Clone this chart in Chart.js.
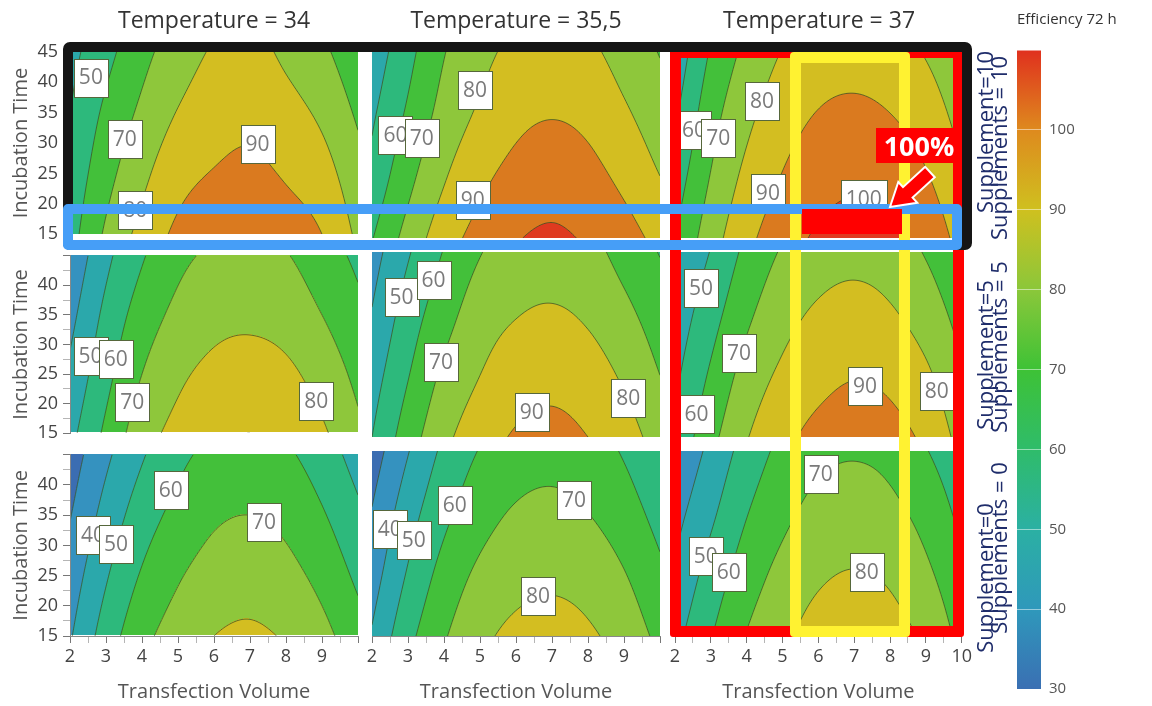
<!DOCTYPE html>
<html>
<head>
<meta charset="utf-8">
<script src="https://cdn.jsdelivr.net/npm/chart.js@4.4.1/dist/chart.umd.min.js"></script>
<style>
  html, body { margin: 0; padding: 0; background: #fff; }
  #wrap { position: relative; width: 1152px; height: 706px; overflow: hidden; font-family: "Open Sans", sans-serif; }
  canvas { position: absolute; }
  .box { position: absolute; box-sizing: border-box; pointer-events: none; }
  .strip { position: absolute; white-space: nowrap; color: #1f2d6b; font-family: "Liberation Sans Narrow", "Open Sans", sans-serif;
           font-size: 22px; line-height: 22px; transform: translate(-50%, -50%) rotate(-90deg); }
</style>
</head>
<body>
<div id="wrap"></div>
<script>
// ---- data ----
const transfectionVolume = [2, 3, 4, 5, 6, 7, 8, 9, 10];
const incubationTime = [15, 25, 35, 45];
const temperatures = ['34', '35,5', '37'];
const supplements = [10, 5, 0];
const efficiencyLevels = [30, 40, 50, 60, 70, 80, 90, 100, 110];

// efficiency grids: one row per incubation time, one column per transfection volume
const effS10T34 = [
  [56, 71.5, 83, 92, 95.5, 96.5, 94.5, 90, 78],
  [53, 66.5, 77.5, 86.5, 90.5, 92, 89, 84, 73.5],
  [50, 62, 72, 80.5, 85.5, 87.5, 83.5, 78, 68.5],
  [47, 57, 67, 75, 81, 83, 78, 72, 63]
];
const effS10T355 = [
  [59.5, 73.5, 85.5, 93.5, 99.3, 101.5, 98.8, 94, 87],
  [53, 67, 79, 87.5, 93, 95.5, 93, 87.5, 80],
  [48.5, 61.5, 73.5, 81.5, 87.5, 89.5, 87.5, 81.5, 74.5],
  [44, 57, 69.5, 77, 82.5, 84.5, 82, 76, 69.5]
];
const effS10T37 = [
  [60, 75.5, 87.5, 95.5, 101.5, 104, 102, 96.5, 86],
  [54.5, 70.5, 82.5, 90.5, 96, 98, 96, 90.5, 81],
  [48.5, 66, 77.5, 85.5, 90.5, 92, 90, 85, 76],
  [43, 61, 72.5, 80.5, 85, 86, 84, 79, 71]
];
const effS5T34 = [
  [47, 62, 75.5, 83, 88, 90, 87.5, 81.5, 72],
  [42, 57, 70, 78, 82.5, 84, 82, 76, 67.5],
  [37, 52.5, 64.5, 72.5, 77, 78, 76, 70, 62.5],
  [32, 47.5, 59, 67.5, 71.5, 72.5, 70.5, 64.5, 58]
];
const effS5T355 = [
  [50, 65, 77.5, 85.5, 91, 93, 90, 84.5, 75.5],
  [45.5, 59.5, 72, 80, 85.5, 87, 84.5, 78.5, 70],
  [40.5, 54.5, 66, 75, 79.5, 81, 78.5, 72.5, 65],
  [36, 49, 60.5, 69.5, 74, 75, 73, 66.5, 59.5]
];
const effS5T37 = [
  [52, 67, 79.5, 87.5, 93, 95.5, 93.5, 87.5, 76],
  [48, 61.5, 74, 82, 87, 89.5, 87.5, 81.5, 71],
  [44, 56, 68, 76.5, 81.5, 83.5, 81, 75, 66],
  [40, 50.5, 62.5, 71, 75.5, 77, 75, 69, 61]
];
const effS0T34 = [
  [39, 54.5, 67, 74.5, 80, 81.5, 79, 73, 64],
  [34.5, 49, 61, 69, 74, 76, 73, 67, 58],
  [29.5, 43.5, 55, 63, 68.5, 70, 67.5, 61, 52],
  [25, 38, 49, 57.5, 62.5, 64.5, 61.5, 55, 46]
];
const effS0T355 = [
  [41, 57, 69, 77.5, 82.5, 84, 81.5, 76, 67.5],
  [35.5, 51, 63.5, 72, 76.5, 78, 76, 70.5, 62],
  [30.5, 45.5, 57.5, 66, 71, 72.5, 70, 64.5, 56.5],
  [25, 39.5, 52, 60.5, 65, 66.5, 64.5, 59, 51]
];
const effS0T37 = [
  [47, 59.5, 70.5, 78, 84, 86.5, 84, 78, 67],
  [41.5, 54, 65, 73, 78.5, 80.5, 78.5, 72, 62.5],
  [36.5, 48, 59.5, 67.5, 73, 75, 72.5, 66.5, 57.5],
  [31, 42.5, 54, 62.5, 67.5, 69, 67, 60.5, 53]
];

// contour labels: [transfection volume, incubation time, level]
const labelsS10T34 = [[2.58, 40.8, 50], [3.52, 30.6, 70], [7.21, 29.8, 90], [3.81, 19.0, 80]];
const labelsS10T355 = [[4.86, 38.9, 80], [2.65, 31.6, 60], [3.38, 31.05, 70], [4.8, 21.1, 90]];
const labelsS10T37 = [[4.42, 37.1, 80], [2.53, 32.4, 60], [3.2, 31.1, 70], [4.58, 22.3, 90], [7.24, 21.3, 100]];
const labelsS5T34 = [[2.57, 28.0, 50], [3.27, 27.6, 60], [3.73, 20.2, 70], [8.84, 20.5, 80]];
const labelsS5T355 = [[2.82, 37.7, 50], [3.71, 40.5, 60], [3.92, 27.1, 70], [6.44, 19.1, 90], [9.12, 21.4, 80]];
const labelsS5T37 = [[2.72, 39.2, 50], [3.78, 28.6, 70], [2.6, 18.8, 60], [7.28, 23.3, 90], [9.27, 22.5, 80]];
const labelsS0T34 = [[2.64, 31.8, 40], [3.28, 30.3, 50], [4.8, 39.1, 60], [7.39, 33.9, 70]];
const labelsS0T355 = [[2.49, 32.3, 40], [3.16, 30.6, 50], [4.3, 36.2, 60], [7.61, 37.1, 70], [6.61, 21.5, 80]];
const labelsS0T37 = [[6.07, 41.2, 70], [2.86, 27.9, 50], [3.5, 25.3, 60], [7.35, 25.3, 80]];

const panelGrids = [[effS10T34, effS10T355, effS10T37], [effS5T34, effS5T355, effS5T37], [effS0T34, effS0T355, effS0T37]];
const panelLabels = [[labelsS10T34, labelsS10T355, labelsS10T37], [labelsS5T34, labelsS5T355, labelsS5T37], [labelsS0T34, labelsS0T355, labelsS0T37]];

// ---- styling ----
const bandColors = ['#3b6db2', '#3592bf', '#2ba8ab', '#2db97c', '#43c03a', '#8ec73b', '#d3be21', '#da7a1f', '#df3a1f'];
const barStops = ['#3a6fb3', '#2f98bb', '#2bb0a3', '#2fbc6a', '#3ec236', '#8bc73a', '#cfc01f', '#de8a1e', '#e0301e'];
const colLeft = [70, 372, 675], plotW = 288;
const rowTop = [52, 252, 451], rowH = [186, 185, 185];

Chart.defaults.font.family = '"Open Sans", sans-serif';
const wrap = document.getElementById('wrap');

function hexToRgb(h) { return [1, 3, 5].map(i => parseInt(h.substr(i, 2), 16)); }

function catmull(p0, p1, p2, p3, t) {
  return 0.5 * (2 * p1 + (-p0 + p2) * t + (2 * p0 - 5 * p1 + 4 * p2 - p3) * t * t + (-p0 + 3 * p1 - 3 * p2 + p3) * t * t * t);
}
function interp1(arr, u) {
  const n = arr.length;
  let i = Math.floor(u);
  if (i < 0) i = 0;
  if (i > n - 2) i = n - 2;
  const t = u - i, p1 = arr[i], p2 = arr[i + 1];
  const p0 = i > 0 ? arr[i - 1] : 2 * p1 - p2;
  const p3 = i < n - 2 ? arr[i + 2] : 2 * p2 - p1;
  return catmull(p0, p1, p2, p3, t);
}

// fills the bands and strokes the contour lines inside the chart area, then draws the labels
function contourLayer(grid, marks) {
  const rgb = bandColors.map(hexToRgb);
  return {
    id: 'contour',
    beforeDatasetsDraw(chart) {
      const {ctx, chartArea: a, scales: {x, y}} = chart;
      const w = Math.round(a.right - a.left), h = Math.round(a.bottom - a.top);
      const x0 = transfectionVolume[0], dx = transfectionVolume[1] - x0;
      const y0 = incubationTime[0], dy = incubationTime[1] - y0;
      const colAt = px => { const u = (x.getValueForPixel(px) - x0) / dx; return grid.map(row => interp1(row, u)); };
      const valAt = (col, py) => interp1(col, (y.getValueForPixel(py) - y0) / dy);

      const img = ctx.createImageData(w, h);
      for (let i = 0; i < w; i++) {
        const col = colAt(a.left + i + 0.5);
        for (let j = 0; j < h; j++) {
          const v = valAt(col, a.top + j + 0.5);
          let k = Math.floor((v - efficiencyLevels[0]) / 10) + 1;
          k = Math.max(0, Math.min(rgb.length - 1, k));
          const c = rgb[k], o = (j * w + i) * 4;
          img.data[o] = c[0]; img.data[o + 1] = c[1]; img.data[o + 2] = c[2]; img.data[o + 3] = 255;
        }
      }
      ctx.putImageData(img, a.left, a.top);

      // marching squares for the level lines
      const s = 2, nx = Math.ceil(w / s) + 1, ny = Math.ceil(h / s) + 1;
      const pxs = [], pys = [];
      for (let i = 0; i < nx; i++) pxs.push(Math.min(a.left + i * s, a.right));
      for (let j = 0; j < ny; j++) pys.push(Math.min(a.top + j * s, a.bottom));
      const vals = new Float64Array(nx * ny);
      for (let i = 0; i < nx; i++) {
        const col = colAt(pxs[i]);
        for (let j = 0; j < ny; j++) vals[j * nx + i] = valAt(col, pys[j]);
      }
      ctx.save();
      ctx.beginPath();
      ctx.rect(a.left, a.top, w, h);
      ctx.clip();
      ctx.beginPath();
      for (const L of efficiencyLevels) {
        for (let j = 0; j < ny - 1; j++) {
          for (let i = 0; i < nx - 1; i++) {
            const va = vals[j * nx + i], vb = vals[j * nx + i + 1];
            const vc = vals[(j + 1) * nx + i + 1], vd = vals[(j + 1) * nx + i];
            const pts = [];
            const xl = pxs[i], xr = pxs[i + 1], yt = pys[j], yb = pys[j + 1];
            if ((va < L) !== (vb < L)) pts.push([xl + (L - va) / (vb - va) * (xr - xl), yt]);
            if ((vb < L) !== (vc < L)) pts.push([xr, yt + (L - vb) / (vc - vb) * (yb - yt)]);
            if ((vd < L) !== (vc < L)) pts.push([xl + (L - vd) / (vc - vd) * (xr - xl), yb]);
            if ((va < L) !== (vd < L)) pts.push([xl, yt + (L - va) / (vd - va) * (yb - yt)]);
            if (pts.length >= 2) {
              ctx.moveTo(pts[0][0], pts[0][1]); ctx.lineTo(pts[1][0], pts[1][1]);
              if (pts.length === 4) { ctx.moveTo(pts[2][0], pts[2][1]); ctx.lineTo(pts[3][0], pts[3][1]); }
            }
          }
        }
      }
      ctx.strokeStyle = 'rgba(62, 82, 36, 0.75)';
      ctx.lineWidth = 1;
      ctx.stroke();
      ctx.restore();
    },
    afterDatasetsDraw(chart) {
      const ctx = chart.ctx;
      const meta = chart.getDatasetMeta(0);
      ctx.save();
      ctx.font = '21px "Open Sans", sans-serif';
      ctx.textAlign = 'center';
      ctx.textBaseline = 'middle';
      meta.data.forEach((pt, i) => {
        const txt = String(marks[i][2]);
        const bw = Math.round(ctx.measureText(txt).width + 10), bh = 38;
        const bx = Math.round(pt.x - bw / 2) + 0.5, by = Math.round(pt.y - bh / 2) + 0.5;
        ctx.fillStyle = '#ffffff';
        ctx.fillRect(bx, by, bw, bh);
        ctx.strokeStyle = '#56673b';
        ctx.lineWidth = 1;
        ctx.strokeRect(bx, by, bw, bh);
        ctx.fillStyle = '#7a7a7a';
        ctx.fillText(txt, pt.x, pt.y + 1);
      });
      ctx.restore();
    }
  };
}

function makePanel(r, c) {
  const first = c === 0, top = r === 0, bottom = r === 2;
  const padL = first ? 0 : 12, padR = 12, padT = top ? 0 : 12, padB = bottom ? 0 : 12;
  const axisW = first ? 70 : 0, titleH = top ? 52 : 0, xAxisH = bottom ? 70 : 0;
  const cv = document.createElement('canvas');
  cv.width = padL + axisW + plotW + padR;
  cv.height = padT + titleH + rowH[r] + xAxisH + padB;
  cv.style.left = (colLeft[c] - axisW - padL) + 'px';
  cv.style.top = (rowTop[r] - titleH - padT) + 'px';
  wrap.appendChild(cv);

  const marks = panelLabels[r][c];
  const scales = {
    x: {
      type: 'linear', min: transfectionVolume[0], max: transfectionVolume[transfectionVolume.length - 1],
      display: bottom,
      afterFit: s => { s.height = bottom ? xAxisH : 0; },
      ticks: {
        stepSize: 0.5, autoSkip: false, maxRotation: 0, padding: 3, color: '#444', font: {size: 18},
        callback: v => (Number.isInteger(v) && !(v === 10 && c < 2)) ? v : ''
      },
      grid: {drawOnChartArea: false, tickLength: 7, z: 1, tickColor: ctx => Number.isInteger(ctx.tick.value) ? '#777' : '#b5b5b5'},
      border: {color: '#888', z: 1},
      title: {display: true, text: 'Transfection Volume', color: '#555', font: {size: 20}, padding: {top: 0, bottom: 2}}
    },
    y: {
      type: 'linear', min: incubationTime[0], max: incubationTime[incubationTime.length - 1],
      display: first, position: 'left',
      afterFit: s => { s.width = first ? axisW : 0; },
      ticks: {
        stepSize: 2.5, autoSkip: false, padding: 5, color: '#444', font: {size: 18},
        callback: v => (v % 5 === 0 && !(v === 45 && !top)) ? v : ''
      },
      grid: {drawOnChartArea: false, tickLength: 7, z: 1, tickColor: ctx => ctx.tick.value % 5 === 0 ? '#777' : '#b5b5b5'},
      border: {color: '#888', z: 1},
      title: {display: true, text: 'Incubation Time', color: '#555', font: {size: 20}, padding: {top: 9, bottom: 0}}
    }
  };
  if (top) {
    scales.xt = {
      type: 'linear', position: 'top', min: 2, max: 10,
      afterFit: s => { s.height = titleH; },
      grid: {display: false}, border: {display: false}, ticks: {display: false},
      title: {display: true, text: 'Temperature = ' + temperatures[c], color: '#333', font: {size: 23}, padding: {top: 8, bottom: 16}}
    };
  }

  new Chart(cv, {
    type: 'scatter',
    data: {datasets: [{data: marks.map(m => ({x: m[0], y: m[1]})), pointRadius: 0, pointHoverRadius: 0}]},
    options: {
      responsive: false, animation: false, devicePixelRatio: 1,
      layout: {padding: {left: padL, right: padR, top: padT, bottom: padB}},
      plugins: {legend: {display: false}, tooltip: {enabled: false}},
      scales
    },
    plugins: [contourLayer(panelGrids[r][c], marks)]
  });
}

for (let r = 0; r < 3; r++) for (let c = 0; c < 3; c++) makePanel(r, c);

// colour bar
const cb = document.createElement('canvas');
cb.width = 139; cb.height = 706;
cb.style.left = '1013px'; cb.style.top = '0px';
wrap.appendChild(cb);
new Chart(cb, {
  type: 'bar',
  data: {
    labels: ['Efficiency 72 h'],
    datasets: [{
      data: [[efficiencyLevels[0], efficiencyLevels[efficiencyLevels.length - 1]]],
      barPercentage: 1, categoryPercentage: 1, borderWidth: 0,
      backgroundColor: ctx => {
        const ch = ctx.chart;
        if (!ch.chartArea) return '#8ec73b';
        const ys = ch.scales.y;
        const lo = efficiencyLevels[0], hi = efficiencyLevels[efficiencyLevels.length - 1];
        const g = ch.ctx.createLinearGradient(0, ys.getPixelForValue(lo), 0, ys.getPixelForValue(hi));
        efficiencyLevels.forEach((v, i) => g.addColorStop((v - lo) / (hi - lo), barStops[i]));
        return g;
      }
    }]
  },
  options: {
    responsive: false, animation: false, devicePixelRatio: 1,
    layout: {padding: {left: 4, bottom: 16}},
    plugins: {
      legend: {display: false}, tooltip: {enabled: false},
      title: {display: true, text: 'Efficiency 72 h', align: 'start', color: '#333', font: {size: 15, weight: 'normal'}, padding: {top: 11, bottom: 21}}
    },
    scales: {
      x: {display: false},
      y: {
        position: 'right', min: efficiencyLevels[0], max: efficiencyLevels[efficiencyLevels.length - 1],
        afterFit: s => { s.width = 111; },
        ticks: {stepSize: 10, padding: 8, color: '#555', font: {size: 15}, callback: v => v === 110 ? '' : v},
        grid: {drawTicks: false, color: 'rgba(255,255,255,0.5)', z: 1},
        border: {display: false}
      }
    }
  }
});

// facet strip labels on the right
const stripA = supplements.map(s => 'Supplement=' + s);
const stripB = supplements.map(s => 'Supplements = ' + s);
[132, 355, 578].forEach((cy, i) => {
  const d = document.createElement('div');
  d.className = 'strip'; d.textContent = stripA[i];
  d.style.left = '984px'; d.style.top = cy + 'px';
  wrap.appendChild(d);
});
[148, 347, 548].forEach((cy, i) => {
  const d = document.createElement('div');
  d.className = 'strip'; d.textContent = stripB[i];
  d.style.left = '998px'; d.style.top = cy + 'px';
  wrap.appendChild(d);
});

// highlight marks drawn over the figure
wrap.insertAdjacentHTML('beforeend', `
  <div class="box" style="left:670px;top:47px;width:294px;height:590px;border:11px solid #ff0000;border-radius:3px;"></div>
  <div class="box" style="left:790px;top:52px;width:120px;height:585px;border:11px solid #fff231;border-radius:4px;"></div>
  <div class="box" style="left:63px;top:42px;width:909px;height:208px;border:10px solid #151515;border-radius:7px;"></div>
  <div class="box" style="left:63px;top:204px;width:899px;height:46px;border:10px solid #469ef7;border-radius:5px;"></div>
  <div class="box" style="left:802px;top:209px;width:100px;height:25px;background:#ff0000;"></div>
  <svg class="box" style="left:0;top:0;" width="1152" height="706">
    <polygon points="925.2,166.8 903,187.2 898.3,182 890,207 917.3,202.8 912.6,197.6 934.8,177.2" fill="#ff0000" stroke="#ffffff" stroke-width="2" stroke-linejoin="miter"/>
  </svg>
  <div class="box" style="left:876px;top:128px;width:86px;height:35px;background:#ff0000;color:#fff;font:bold 27px 'Open Sans', sans-serif;line-height:35px;text-align:center;">100%</div>
`);
</script>
</body>
</html>
